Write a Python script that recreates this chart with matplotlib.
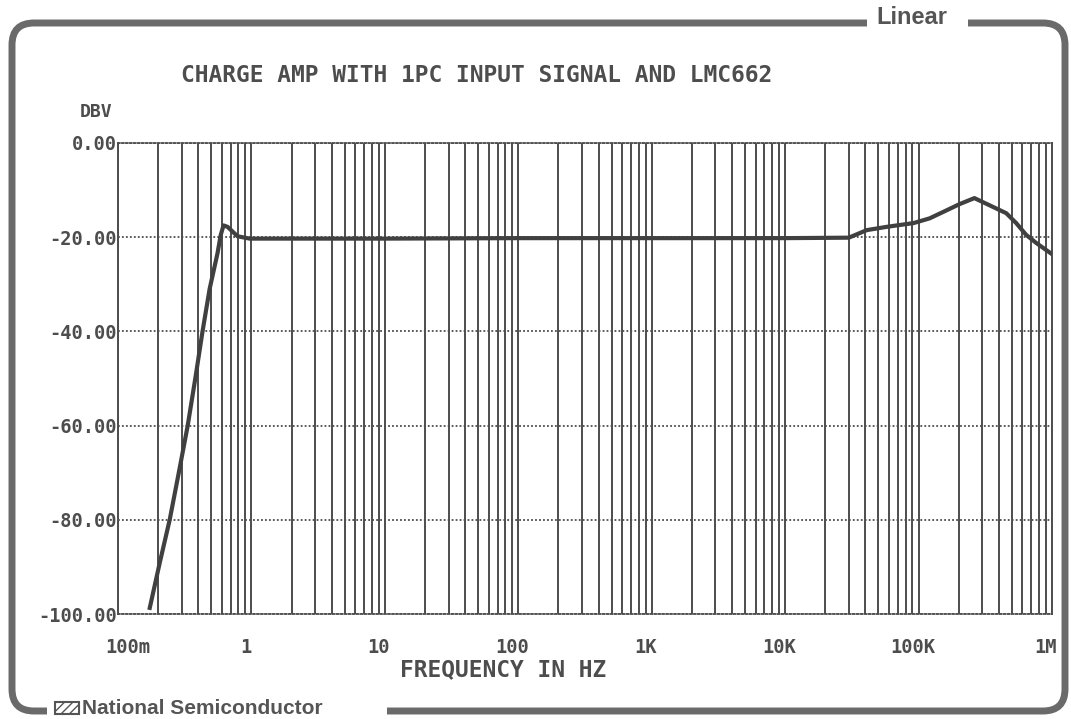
import numpy as np
import matplotlib
matplotlib.use("Agg")
import matplotlib.pyplot as plt
import matplotlib.transforms as mtransforms
from matplotlib.patches import FancyBboxPatch, Rectangle


# curve (Hz, dBV)
freq_hz = [0.173, 0.206, 0.244, 0.290, 0.333, 0.382, 0.430, 0.486, 0.557, 0.589,
           0.618, 0.662, 0.722, 0.786, 0.855, 0.97, 2, 10, 100, 1000,
           10000, 30000, 40900, 57700, 91800, 121000, 162000, 202000, 262000, 363000,
           454000, 539000, 640000, 760000, 1000000]
gain_dbv = [-98.7, -89.0, -80.0, -69.0, -60.0, -49.5, -40.0, -31.0, -23.4, -19.5,
            -17.5, -17.8, -18.8, -19.8, -20.0, -20.3, -20.3, -20.3, -20.2, -20.2,
            -20.2, -20.1, -18.5, -17.8, -17.0, -16.0, -14.3, -13.0, -11.7, -13.6,
            -14.9, -17.0, -19.5, -21.2, -23.6]

x_ticks = [0.1, 1, 10, 100, 1000, 10000, 100000, 1000000]
x_labels = ["100m", "1", "10", "100", "1K", "10K", "100K", "1M"]
y_ticks = [0, -20, -40, -60, -80, -100]
y_labels = ["0.00", "-20.00", "-40.00", "-60.00", "-80.00", "-100.00"]

ink = "#4d4d4d"
mono = "DejaVu Sans Mono"

fig = plt.figure(figsize=(10.71, 7.19), dpi=100)

# page frame drawn in pixel coordinates
ax0 = fig.add_axes([0, 0, 1, 1])
ax0.set_xlim(0, 1071)
ax0.set_ylim(719, 0)
ax0.axis("off")
ax0.set_zorder(0)
ax0.add_patch(FancyBboxPatch((12, 23), 1053, 688, boxstyle="round,pad=0,rounding_size=22",
                             fill=False, lw=5, ec="#6a6a6a"))
ax0.add_patch(Rectangle((867, 5), 101, 32, fc="white", ec="none"))
ax0.add_patch(Rectangle((47, 698), 340, 25, fc="white", ec="none"))
ax0.text(912, 17, "Linear", family="Liberation Sans", weight="bold", fontsize=17,
         color="#555555", ha="center", va="center")
ax0.add_patch(Rectangle((55, 702), 24, 12, fc="white", ec="#555555", hatch="////", lw=1.5))
ax0.text(82, 714, "National Semiconductor", family="Liberation Sans", weight="bold",
         fontsize=15, color="#555555", ha="left", va="baseline")

# the plot itself
ax = fig.add_axes([118 / 1071, 105 / 719, 934 / 1071, 471 / 719])
ax.set_zorder(1)
ax.set_xscale("log")
ax.set_xlim(0.1, 1e6)
ax.set_ylim(-100, 0)

ax.grid(True, which="both", axis="x", color=ink, lw=1.4, linestyle="-")
ax.grid(True, which="major", axis="y", color=ink, lw=1.3, linestyle=(0, (1, 1.2)))
ax.plot(freq_hz, gain_dbv, color="#404040", lw=3, zorder=3)

for side in ["left", "right"]:
    ax.spines[side].set_color(ink)
    ax.spines[side].set_linewidth(1.4)
for side in ["top", "bottom"]:
    ax.spines[side].set_color(ink)
    ax.spines[side].set_linewidth(1.3)
    ax.spines[side].set_linestyle((0, (1, 1.2)))

ax.set_xticks(x_ticks)
ax.set_xticklabels(x_labels)
ax.set_yticks(y_ticks)
ax.set_yticklabels(y_labels)
ax.minorticks_on()
ax.yaxis.set_minor_locator(matplotlib.ticker.NullLocator())
ax.tick_params(which="both", length=0)
ax.tick_params(axis="x", pad=17, labelsize=13.5, labelcolor=ink)
ax.tick_params(axis="y", pad=1, labelsize=13.5, labelcolor=ink)
for lab in ax.get_xticklabels() + ax.get_yticklabels():
    lab.set_family(mono)
    lab.set_weight("bold")

# plotter put the frequency labels a little off their grid lines
for i, lab in enumerate(ax.get_xticklabels()):
    dx = 10 if i == 0 else -6
    lab.set_transform(lab.get_transform() + mtransforms.ScaledTranslation(dx / 100, 0, fig.dpi_scale_trans))

fig.text(477 / 1071, 1 - 75 / 719, "CHARGE AMP WITH 1PC INPUT SIGNAL AND LMC662",
         family=mono, weight="bold", fontsize=16.5, color=ink, ha="center", va="center")
fig.text(80 / 1071, 1 - 112 / 719, "DBV", family=mono, weight="bold", fontsize=13,
         color=ink, ha="left", va="center")
fig.text(503 / 1071, 1 - 670 / 719, "FREQUENCY IN HZ", family=mono, weight="bold",
         fontsize=16.5, color=ink, ha="center", va="center")

fig.savefig("out.png", dpi=100)
